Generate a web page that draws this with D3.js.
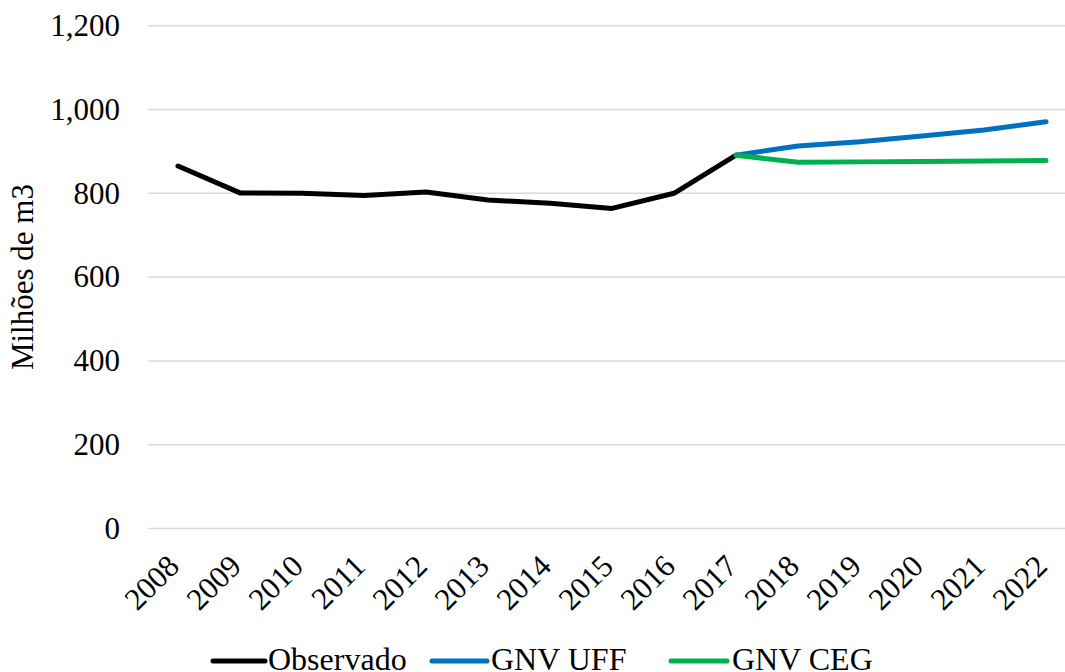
<!DOCTYPE html>
<html>
<head>
<meta charset="utf-8">
<script src="https://cdn.jsdelivr.net/npm/d3@7"></script>
<style>
  html, body { margin: 0; padding: 0; background: #fff; overflow: hidden; }
  svg text { font-family: "Liberation Serif", "Times New Roman", "DejaVu Serif", serif; }
</style>
</head>
<body>
<svg id="chart" width="1065" height="672"></svg>
<script>
const years = ["2008","2009","2010","2011","2012","2013","2014","2015","2016","2017","2018","2019","2020","2021","2022"];
const observado = [865, 801, 800, 795, 803, 784, 776, 764, 800, 891, null, null, null, null, null];
const gnvUFF = [null, null, null, null, null, null, null, null, null, 891, 913, 923, 937, 951, 971];
const gnvCEG = [null, null, null, null, null, null, null, null, null, 891, 874, 875, 876, 877, 878];
const yTicks = [0, 200, 400, 600, 800, 1000, 1200];
const seriesNames = ["Observado", "GNV UFF", "GNV CEG"];
const seriesColors = ["#000000", "#0070C0", "#00B050"];

const svg = d3.select("#chart");
const fontSize = 31;
const fontFamily = "'Liberation Serif', 'Times New Roman', 'DejaVu Serif', serif";

const x = d3.scaleBand().domain(years).range([147, 1077]);
const y = d3.scaleLinear().domain([0, 1200]).range([528.5, 25.7]);

// gridlines
svg.append("g").selectAll("line").data(yTicks).join("line")
  .attr("x1", 148).attr("x2", 1077)
  .attr("y1", d => y(d)).attr("y2", d => y(d))
  .attr("stroke", "#d9d9d9").attr("stroke-width", 1.5);

// y axis labels
const fmt = d3.format(",");
svg.append("g").selectAll("text").data(yTicks).join("text")
  .attr("x", 120).attr("y", d => y(d))
  .attr("dy", "0.33em")
  .attr("text-anchor", "end")
  .attr("font-family", fontFamily)
  .attr("font-size", fontSize)
  .attr("fill", "#000")
  .text(d => fmt(d));

// y axis title
svg.append("text")
  .attr("transform", `translate(33, ${(y(0) + y(1200)) / 2}) rotate(-90)`)
  .attr("text-anchor", "middle")
  .attr("font-family", fontFamily)
  .attr("font-size", fontSize)
  .attr("fill", "#000")
  .text("Milhões de m3");

// x axis labels
svg.append("g").selectAll("text").data(years).join("text")
  .attr("transform", d => `translate(${x(d) + x.bandwidth() / 2 + 3}, 568) rotate(-45)`)
  .attr("text-anchor", "end")
  .attr("font-family", fontFamily)
  .attr("font-size", fontSize)
  .attr("fill", "#000")
  .text(d => d);

// lines
const line = d3.line()
  .defined(d => d.v !== null)
  .x(d => x(d.year) + x.bandwidth() / 2)
  .y(d => y(d.v));

const seriesData = [observado, gnvUFF, gnvCEG];
seriesData.forEach((arr, i) => {
  const pts = years.map((yr, j) => ({ year: yr, v: arr[j] }));
  svg.append("path")
    .datum(pts)
    .attr("d", line)
    .attr("fill", "none")
    .attr("stroke", seriesColors[i])
    .attr("stroke-width", 5)
    .attr("stroke-linecap", "round")
    .attr("stroke-linejoin", "round");
});

// legend
const legendItems = [
  { x1: 213, x2: 265, tx: 268 },
  { x1: 432, x2: 487, tx: 491 },
  { x1: 671, x2: 727, tx: 732 }
];
const legendY = 661;
const lg = svg.append("g");
legendItems.forEach((it, i) => {
  lg.append("line")
    .attr("x1", it.x1).attr("x2", it.x2)
    .attr("y1", legendY).attr("y2", legendY)
    .attr("stroke", seriesColors[i]).attr("stroke-width", 5)
    .attr("stroke-linecap", "round");
  lg.append("text")
    .attr("x", it.tx).attr("y", 670)
    .attr("font-family", fontFamily)
    .attr("font-size", 32)
    .attr("fill", "#000")
    .text(seriesNames[i]);
});
</script>
</body>
</html>
